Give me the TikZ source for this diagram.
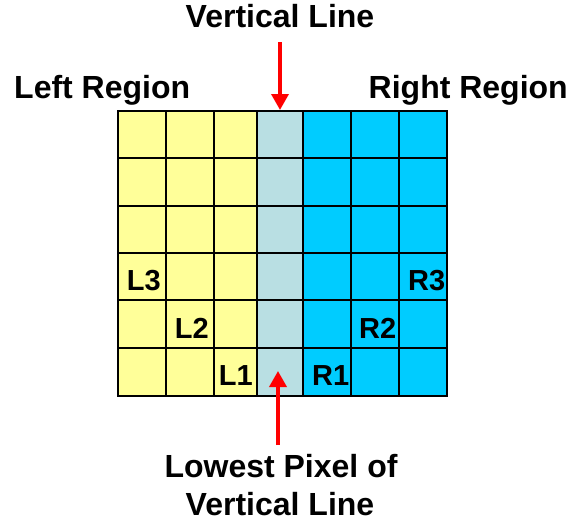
\documentclass[tikz,border=0pt]{standalone}
\usepackage{fontspec}
\setmainfont{Liberation Sans}
\usetikzlibrary{arrows.meta}

\definecolor{leftfill}{HTML}{FFFF99}
\definecolor{linefill}{HTML}{B9DFE3}
\definecolor{rightfill}{HTML}{00CCFF}

\begin{document}
\begin{tikzpicture}[
  x=1pt, y=-1pt,
  font=\bfseries\fontsize{32}{38}\selectfont,
  >={Triangle[length=16pt, width=17pt]},
  title/.style={inner sep=0pt},
  cellname/.style={inner sep=0pt, font=\bfseries\fontsize{29}{34}\selectfont},
  pointer/.style={->, red, line width=3.5pt},
  gridline/.style={line width=2pt},
]
\useasboundingbox (0,0) rectangle (570,525);

% ================= pixel grid =================
\fill[leftfill] (117,110) rectangle (257,395);
\fill[linefill] (257,110) rectangle (303,395);
\fill[rightfill] (303,110) rectangle (446,395);
\foreach \x in {166,214,257,303,351,399}
  \draw[gridline] (\x,110) -- (\x,395);
\foreach \y in {158,206,253,300,348}
  \draw[gridline] (117,\y) -- (446,\y);
\node[draw, gridline, inner sep=0pt, minimum width=329pt, minimum height=285pt,
      anchor=north west] (grid) at (117,110) {};

% ================= cell labels =================
\node[cellname, anchor=base east] (lthree) at (161,290) {L3};
\node[cellname, anchor=base east] (ltwo) at (209,338) {L2};
\node[cellname, anchor=base east] (lone) at (253,385) {L1};
\node[cellname, anchor=base west] (rone) at (312,385) {R1};
\node[cellname, anchor=base west] (rtwo) at (359,338) {R2};
\node[cellname, anchor=base west] (rthree) at (408,290) {R3};

% ================= titles =================
\node[title, anchor=base west] (leftreg) at (14,98) {Left Region};
\node[title, anchor=base east] (rightreg) at (568,98) {Right Region};
\node[title, anchor=base] (vline) at (280,27) {Vertical Line};
\node[title, anchor=base] (lowest) at (281,477) {Lowest Pixel of};
\node[title, anchor=base] (lowline) at (280,515) {Vertical Line};

% ================= pointers =================
\coordinate (toptail) at (280,42);
\coordinate (lowtail) at (278,445);
\coordinate (lowtip) at (278,371);
\draw[pointer] (toptail) -- (toptail |- grid.north);
\draw[pointer] (lowtail) -- (lowtip);

\end{tikzpicture}
\end{document}
